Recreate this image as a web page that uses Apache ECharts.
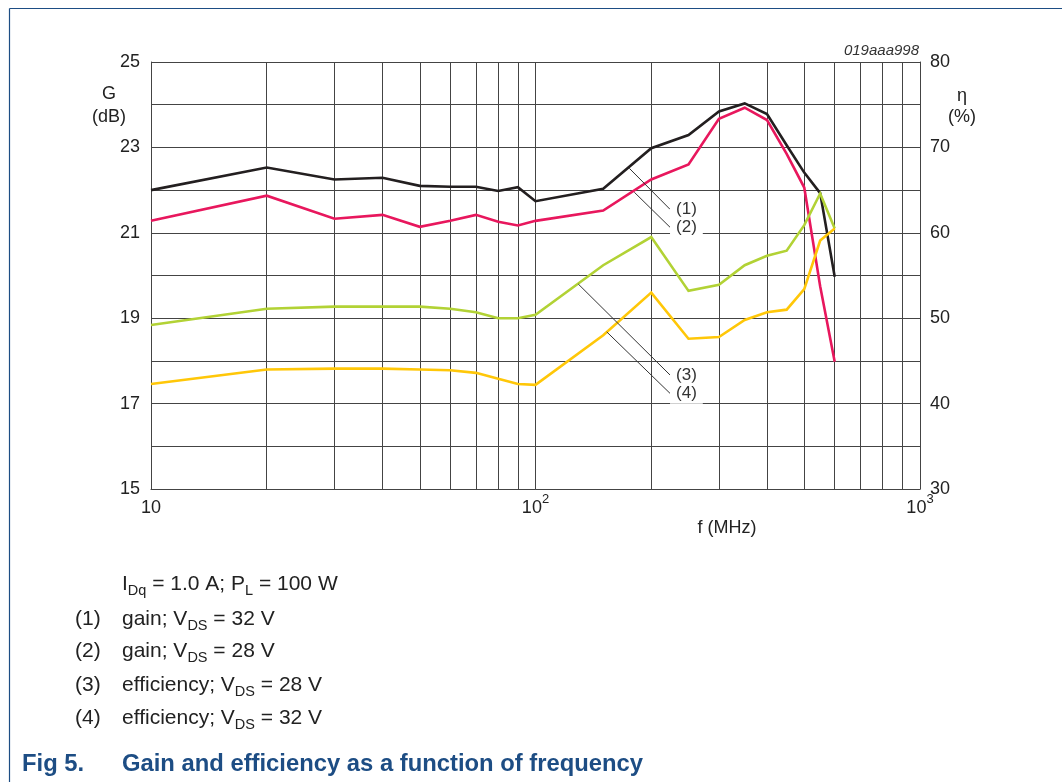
<!DOCTYPE html>
<html>
<head>
<meta charset="utf-8">
<script src="https://cdn.jsdelivr.net/npm/echarts@6/dist/echarts.min.js"></script>
<style>
  html, body { margin: 0; padding: 0; background: #fff; }
  #chart { width: 1062px; height: 782px; }
</style>
</head>
<body>
<div id="chart"></div>
<script>
// Frequency points (MHz)
const freqs = [10, 20, 30, 40, 50, 60, 70, 80, 90, 100, 150, 200, 250, 300, 350, 400, 450, 500, 550, 600];

// (1) gain, VDS = 32 V (dB)
const gain32 = [22.0, 22.53, 22.25, 22.29, 22.10, 22.08, 22.08, 21.98, 22.07, 21.74, 22.03, 22.98, 23.29, 23.84, 24.03, 23.78, 23.05, 22.41, 21.93, 19.97];
// (2) gain, VDS = 28 V (dB)
const gain28 = [21.28, 21.87, 21.33, 21.42, 21.14, 21.28, 21.42, 21.26, 21.17, 21.28, 21.52, 22.25, 22.60, 23.67, 23.93, 23.64, 22.85, 22.06, 19.75, 17.98];
// (3) efficiency, VDS = 28 V (%)
const eff28 = [49.2, 51.1, 51.35, 51.35, 51.35, 51.1, 50.7, 50.0, 50.0, 50.4, 56.2, 59.5, 53.2, 53.9, 56.2, 57.3, 57.9, 60.9, 64.6, 60.5];
// (4) efficiency, VDS = 32 V (%)
const eff32 = [42.3, 44.0, 44.1, 44.1, 44.0, 43.9, 43.6, 42.9, 42.3, 42.2, 48.0, 53.0, 47.6, 47.8, 49.8, 50.7, 51.0, 53.4, 59.1, 60.5];

// Minor decade gridline frequencies
const minorFreqs = [20, 30, 40, 50, 60, 70, 80, 90, 200, 300, 400, 500, 600, 700, 800, 900];

// Curve callouts: label, start and end points (MHz, dB) in gain-axis units
const calloutLabels = ['(1)', '(2)', '(3)', '(4)'];
const calloutFrom = [[175.4, 22.51], [180.7, 21.95], [129.2, 19.80], [153.2, 18.68]];
const calloutTo = [[223.8, 21.55], [223.8, 21.13], [223.8, 17.67], [223.8, 17.24]];

// Key below the chart
const keyIds = ['(1)', '(2)', '(3)', '(4)'];
const keyText = ['gain; V', 'gain; V', 'efficiency; V', 'efficiency; V'];
const keyVolts = [' = 32 V', ' = 28 V', ' = 28 V', ' = 32 V'];

const gridColor = '#444';
const textColor = '#222';
const blue = '#1d4d84';
const font = 'Liberation Sans, Arial, sans-serif';

const pairs = (ys) => freqs.map((f, i) => [f, ys[i]]);

const chart = echarts.init(document.getElementById('chart'), null, { renderer: 'canvas' });

const lineSeries = (name, ys, color, yAxisIndex) => ({
  name, type: 'line', data: pairs(ys), yAxisIndex,
  symbol: 'none', smooth: false, z: 3,
  lineStyle: { color, width: 2.6, join: 'miter' },
  animation: false
});

// rich-text styles for subscripted note lines
const noteRich = {
  n: { fontSize: 21, lineHeight: 28, verticalAlign: 'middle', fill: textColor, fontFamily: font },
  s: { fontSize: 14.5, lineHeight: 28, verticalAlign: 'bottom', fill: textColor, fontFamily: font }
};
const rowY = [619, 651, 685, 718];

chart.setOption({
  animation: false,
  backgroundColor: '#fff',
  grid: { left: 151, right: 142, top: 62, bottom: 293, containLabel: false },
  xAxis: {
    type: 'log', logBase: 10, min: 10, max: 1000,
    axisLine: { show: true, lineStyle: { color: gridColor, width: 1 } },
    axisTick: { show: false },
    splitLine: { show: true, lineStyle: { color: gridColor, width: 1 } },
    axisLabel: {
      margin: 4,
      color: textColor,
      formatter: (v) => {
        const e = Math.round(Math.log10(v));
        return e === 1 ? '{b|10}' : '{b|10}{sup|' + e + '}';
      },
      rich: {
        b: { fontSize: 18, lineHeight: 30, fontFamily: font, color: textColor },
        sup: { fontSize: 13, lineHeight: 18, verticalAlign: 'top', fontFamily: font, color: textColor }
      }
    }
  },
  yAxis: [
    {
      type: 'value', min: 15, max: 25, interval: 1, position: 'left',
      axisLine: { show: true, lineStyle: { color: gridColor, width: 1 } },
      axisTick: { show: false },
      splitLine: { show: true, lineStyle: { color: gridColor, width: 1 } },
      axisLabel: {
        margin: 11, color: textColor, fontSize: 18, fontFamily: font,
        formatter: (v) => (Math.round(v) % 2 === 1 ? String(Math.round(v)) : '')
      }
    },
    {
      type: 'value', min: 30, max: 80, interval: 5, position: 'right',
      axisLine: { show: true, lineStyle: { color: gridColor, width: 1 } },
      axisTick: { show: false },
      splitLine: { show: false },
      axisLabel: {
        margin: 10, color: textColor, fontSize: 18, fontFamily: font,
        formatter: (v) => (Math.round(v) % 10 === 0 ? String(Math.round(v)) : '')
      }
    }
  ],
  series: [
    {
      name: 'minor grid', type: 'line', data: [], yAxisIndex: 0, silent: true,
      markLine: {
        silent: true, z: 1, symbol: ['none', 'none'], animation: false,
        label: { show: false },
        lineStyle: { color: gridColor, width: 1, type: 'solid' },
        data: minorFreqs.map((f) => ({ xAxis: f }))
      }
    },
    lineSeries('gain, VDS = 32 V', gain32, '#231f20', 0),
    lineSeries('gain, VDS = 28 V', gain28, '#e8175d', 0),
    lineSeries('efficiency, VDS = 28 V', eff28, '#b2d235', 1),
    lineSeries('efficiency, VDS = 32 V', eff32, '#ffc708', 1),
    {
      name: 'callouts', type: 'line', data: [], yAxisIndex: 0, silent: true,
      markLine: {
        silent: true, z: 6, symbol: ['none', 'none'], animation: false,
        label: { show: false },
        lineStyle: { color: '#333', width: 1, type: 'solid' },
        data: calloutFrom.map((p, i) => [{ coord: p }, { coord: calloutTo[i] }])
      },
      markPoint: {
        silent: true, z: 7, symbol: 'circle', symbolSize: 0, animation: false,
        itemStyle: { color: 'rgba(0,0,0,0)' },
        label: {
          show: true, position: 'right', distance: 0,
          formatter: '{b}', color: '#333', fontSize: 17, fontFamily: font,
          backgroundColor: '#fff', padding: [2, 6, 2, 6]
        },
        data: calloutTo.map((p, i) => ({ name: calloutLabels[i], coord: p }))
      }
    }
  ],
  graphic: [
    // frame
    { type: 'line', shape: { x1: 9.5, y1: 8.5, x2: 1062, y2: 8.5 }, style: { stroke: blue, lineWidth: 1.2 }, silent: true },
    { type: 'line', shape: { x1: 9.5, y1: 8.5, x2: 9.5, y2: 782 }, style: { stroke: blue, lineWidth: 1.2 }, silent: true },
    // axis names
    { type: 'text', x: 109, y: 94, style: { text: 'G', fontSize: 18, fill: textColor, align: 'center', verticalAlign: 'middle', fontFamily: font } },
    { type: 'text', x: 109, y: 117, style: { text: '(dB)', fontSize: 18, fill: textColor, align: 'center', verticalAlign: 'middle', fontFamily: font } },
    { type: 'text', x: 962, y: 96, style: { text: 'η', fontSize: 18, fill: textColor, align: 'center', verticalAlign: 'middle', fontFamily: font } },
    { type: 'text', x: 962, y: 117, style: { text: '(%)', fontSize: 18, fill: textColor, align: 'center', verticalAlign: 'middle', fontFamily: font } },
    { type: 'text', x: 727, y: 528, style: { text: 'f (MHz)', fontSize: 18, fill: textColor, align: 'center', verticalAlign: 'middle', fontFamily: font } },
    { type: 'text', x: 919, y: 51, style: { text: '019aaa998', fontSize: 15, fontStyle: 'italic', fill: '#333', align: 'right', verticalAlign: 'middle', fontFamily: font } },
    // operating conditions
    { type: 'text', x: 122, y: 584, style: {
        text: '{n|I}{s|Dq}{n| = 1.0 A; P}{s|L}{n| = 100 W}', align: 'left', verticalAlign: 'middle', rich: noteRich } },
    // curve key
    ...keyIds.flatMap((k, i) => [
      { type: 'text', x: 75, y: rowY[i], style: { text: '{n|' + k + '}', align: 'left', verticalAlign: 'middle', rich: noteRich } },
      { type: 'text', x: 122, y: rowY[i], style: {
          text: '{n|' + keyText[i] + '}{s|DS}{n|' + keyVolts[i] + '}', align: 'left', verticalAlign: 'middle', rich: noteRich } }
    ]),
    // caption
    { type: 'text', x: 22, y: 764, style: { text: 'Fig 5.', fontSize: 23.8, fontWeight: 'bold', fill: blue, align: 'left', verticalAlign: 'middle', fontFamily: font } },
    { type: 'text', x: 122, y: 764, style: { text: 'Gain and efficiency as a function of frequency', fontSize: 23.8, fontWeight: 'bold', fill: blue, align: 'left', verticalAlign: 'middle', fontFamily: font } }
  ]
});
</script>
</body>
</html>
